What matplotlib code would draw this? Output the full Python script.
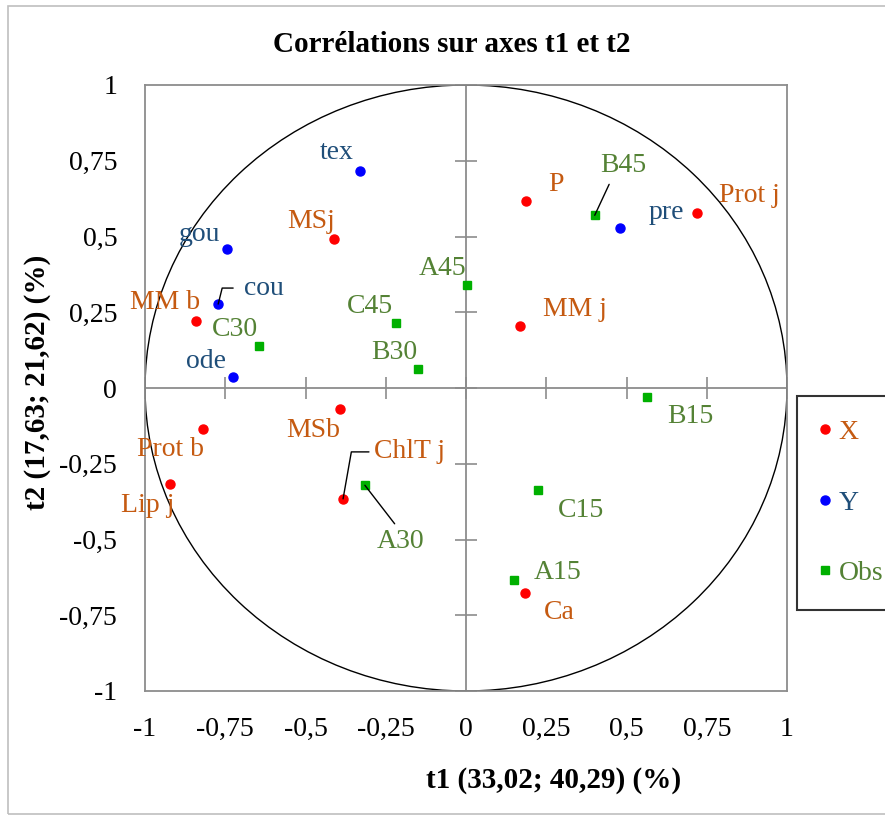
import matplotlib
matplotlib.use("Agg")
import matplotlib.pyplot as plt
from matplotlib.patches import Circle, Rectangle

plt.rcParams['font.family'] = ['Liberation Serif', 'DejaVu Serif']

# ---- data ----
x_names = ["P", "Prot j", "MSj", "MM b", "MM j", "MSb", "Prot b", "Lip j", "ChlT j", "Ca"]
x_t1 = [0.188, 0.719, -0.411, -0.840, 0.169, -0.393, -0.818, -0.923, -0.383, 0.183]
x_t2 = [0.618, 0.578, 0.492, 0.221, 0.206, -0.070, -0.135, -0.318, -0.366, -0.676]

y_names = ["tex", "gou", "cou", "ode", "pre"]
y_t1 = [-0.330, -0.745, -0.772, -0.727, 0.481]
y_t2 = [0.717, 0.460, 0.277, 0.036, 0.527]

obs_names = ["B45", "A45", "C45", "C30", "B30", "B15", "A30", "C15", "A15"]
obs_t1 = [0.401, 0.002, -0.217, -0.644, -0.149, 0.563, -0.315, 0.225, 0.149]
obs_t2 = [0.570, 0.339, 0.216, 0.138, 0.062, -0.029, -0.321, -0.336, -0.634]

ticks = [-1, -0.75, -0.5, -0.25, 0, 0.25, 0.5, 0.75, 1]
tick_labels = ["-1", "-0,75", "-0,5", "-0,25", "0", "0,25", "0,5", "0,75", "1"]

title = "Corrélations sur axes t1 et t2"
xlabel = "t1 (33,02; 40,29) (%)"
ylabel = "t2 (17,63; 21,62) (%)"

# ---- styling ----
C_X, C_Y, C_O = "#FF0000", "#0000FF", "#00B000"
L_X, L_Y, L_O = "#C55A11", "#1F4E79", "#548235"
GRAY = "#8C8C8C"
FS = 20

# label offsets in pixels (dx, dy)
x_off = {"P": (30, 16), "Prot j": (53, 17), "MSj": (-23, 17), "MM b": (-31, 19),
         "MM j": (55, 16), "MSb": (-27, -21), "Prot b": (-33, -21), "Lip j": (-22, -21),
         "ChlT j": (67, 47), "Ca": (35, -20)}
y_off = {"tex": (-23, 18), "gou": (-27, 14), "cou": (46, 16), "ode": (-27, 16), "pre": (46, 16)}
o_off = {"B45": (29, 50), "A45": (-24, 17), "C45": (-26, 16), "C30": (-24, 17), "B30": (-24, 17),
         "B15": (44, -20), "A30": (36, -56), "C15": (43, -21), "A15": (44, 8)}

W, H = 885, 818
fig = plt.figure(figsize=(W / 100, H / 100), dpi=100)
rect = [145 / W, 1 - 691 / H, 642 / W, 606 / H]

# axes with center lines and ticks
axc = fig.add_axes(rect)
axc.set_xlim(-1, 1)
axc.set_ylim(-1, 1)
axc.patch.set_visible(False)
for s in ["top", "right"]:
    axc.spines[s].set_visible(False)
axc.spines["left"].set_position(("data", 0))
axc.spines["bottom"].set_position(("data", 0))
for s in ["left", "bottom"]:
    axc.spines[s].set_color(GRAY)
    axc.spines[s].set_linewidth(1.3)
axc.set_xticks(ticks)
axc.set_yticks(ticks)
axc.tick_params(direction="inout", length=16, width=1.2, color=GRAY,
                labelleft=False, labelbottom=False)
axc.set_zorder(0)

# main axes
ax = fig.add_axes(rect, sharex=axc, sharey=axc)
ax.set_zorder(1)
ax.patch.set_visible(False)
for s in ax.spines.values():
    s.set_color(GRAY)
    s.set_linewidth(1.3)
ax.set_xticks(ticks)
ax.set_xticklabels(tick_labels)
ax.set_yticks(ticks)
ax.set_yticklabels(tick_labels)
ax.tick_params(axis="x", length=0, labelsize=FS, pad=19)
ax.tick_params(axis="y", length=0, labelsize=FS, pad=20)

ax.add_patch(Circle((0, 0), 1, fill=False, edgecolor="black", linewidth=1.0))

ax.plot(x_t1, x_t2, "o", color=C_X, markersize=6.5, linestyle="none", label="X")
ax.plot(y_t1, y_t2, "o", color=C_Y, markersize=6.5, linestyle="none", label="Y")
ax.plot(obs_t1, obs_t2, "s", color=C_O, markersize=6, linestyle="none", label="Obs")

def lab(names, xs, ys, offs, col):
    for n, a, b in zip(names, xs, ys):
        dx, dy = offs[n]
        kw = {}
        if n == "ChlT j":
            kw = dict(arrowprops=dict(arrowstyle="-", color="black", lw=1.0, shrinkA=2, shrinkB=0,
                                      relpos=(0, 0.5), connectionstyle="angle,angleA=0,angleB=80,rad=0"))
        elif n == "cou":
            kw = dict(arrowprops=dict(arrowstyle="-", color="black", lw=1.0, shrinkA=6, shrinkB=0,
                                      relpos=(0, 0.5), connectionstyle="angle,angleA=0,angleB=76,rad=0"))
        elif n == "A30":
            kw = dict(arrowprops=dict(arrowstyle="-", color="black", lw=1.0, shrinkA=2, shrinkB=0,
                                      relpos=(0.45, 1)))
        elif n == "B45":
            kw = dict(arrowprops=dict(arrowstyle="-", color="black", lw=1.0, shrinkA=3, shrinkB=0,
                                      relpos=(0.25, 0)))
        ax.annotate(n, (a, b), xytext=(dx, dy), textcoords="offset pixels",
                    ha="center", va="center", fontsize=FS, color=col, **kw)

lab(x_names, x_t1, x_t2, x_off, L_X)
lab(y_names, y_t1, y_t2, y_off, L_Y)
lab(obs_names, obs_t1, obs_t2, o_off, L_O)

fig.text(452 / W, 1 - 45 / H, title, ha="center", va="center", fontsize=21, fontweight="bold")
fig.text(554 / W, 1 - 781 / H, xlabel, ha="center", va="center", fontsize=21, fontweight="bold")
fig.text(38 / W, 1 - 382 / H, ylabel, ha="center", va="center", fontsize=21, fontweight="bold",
         rotation=90)

leg = ax.legend(loc="upper left", bbox_to_anchor=(797 / W, 1 - 396 / H), bbox_transform=fig.transFigure,
                fontsize=FS, frameon=True, fancybox=False, edgecolor="black", handlelength=0.3,
                handletextpad=0.35, labelspacing=1.62, borderpad=0.85, markerscale=1.0,
                borderaxespad=0)
leg.get_frame().set_linewidth(1.5)
for t, c in zip(leg.get_texts(), [L_X, L_Y, L_O]):
    t.set_color(c)

fig.add_artist(Rectangle((8 / W, 4 / H), (W + 10) / W, 808 / H, transform=fig.transFigure,
                         fill=False, edgecolor="#BFBFBF", linewidth=1.2))

fig.savefig("out.png", dpi=100)
